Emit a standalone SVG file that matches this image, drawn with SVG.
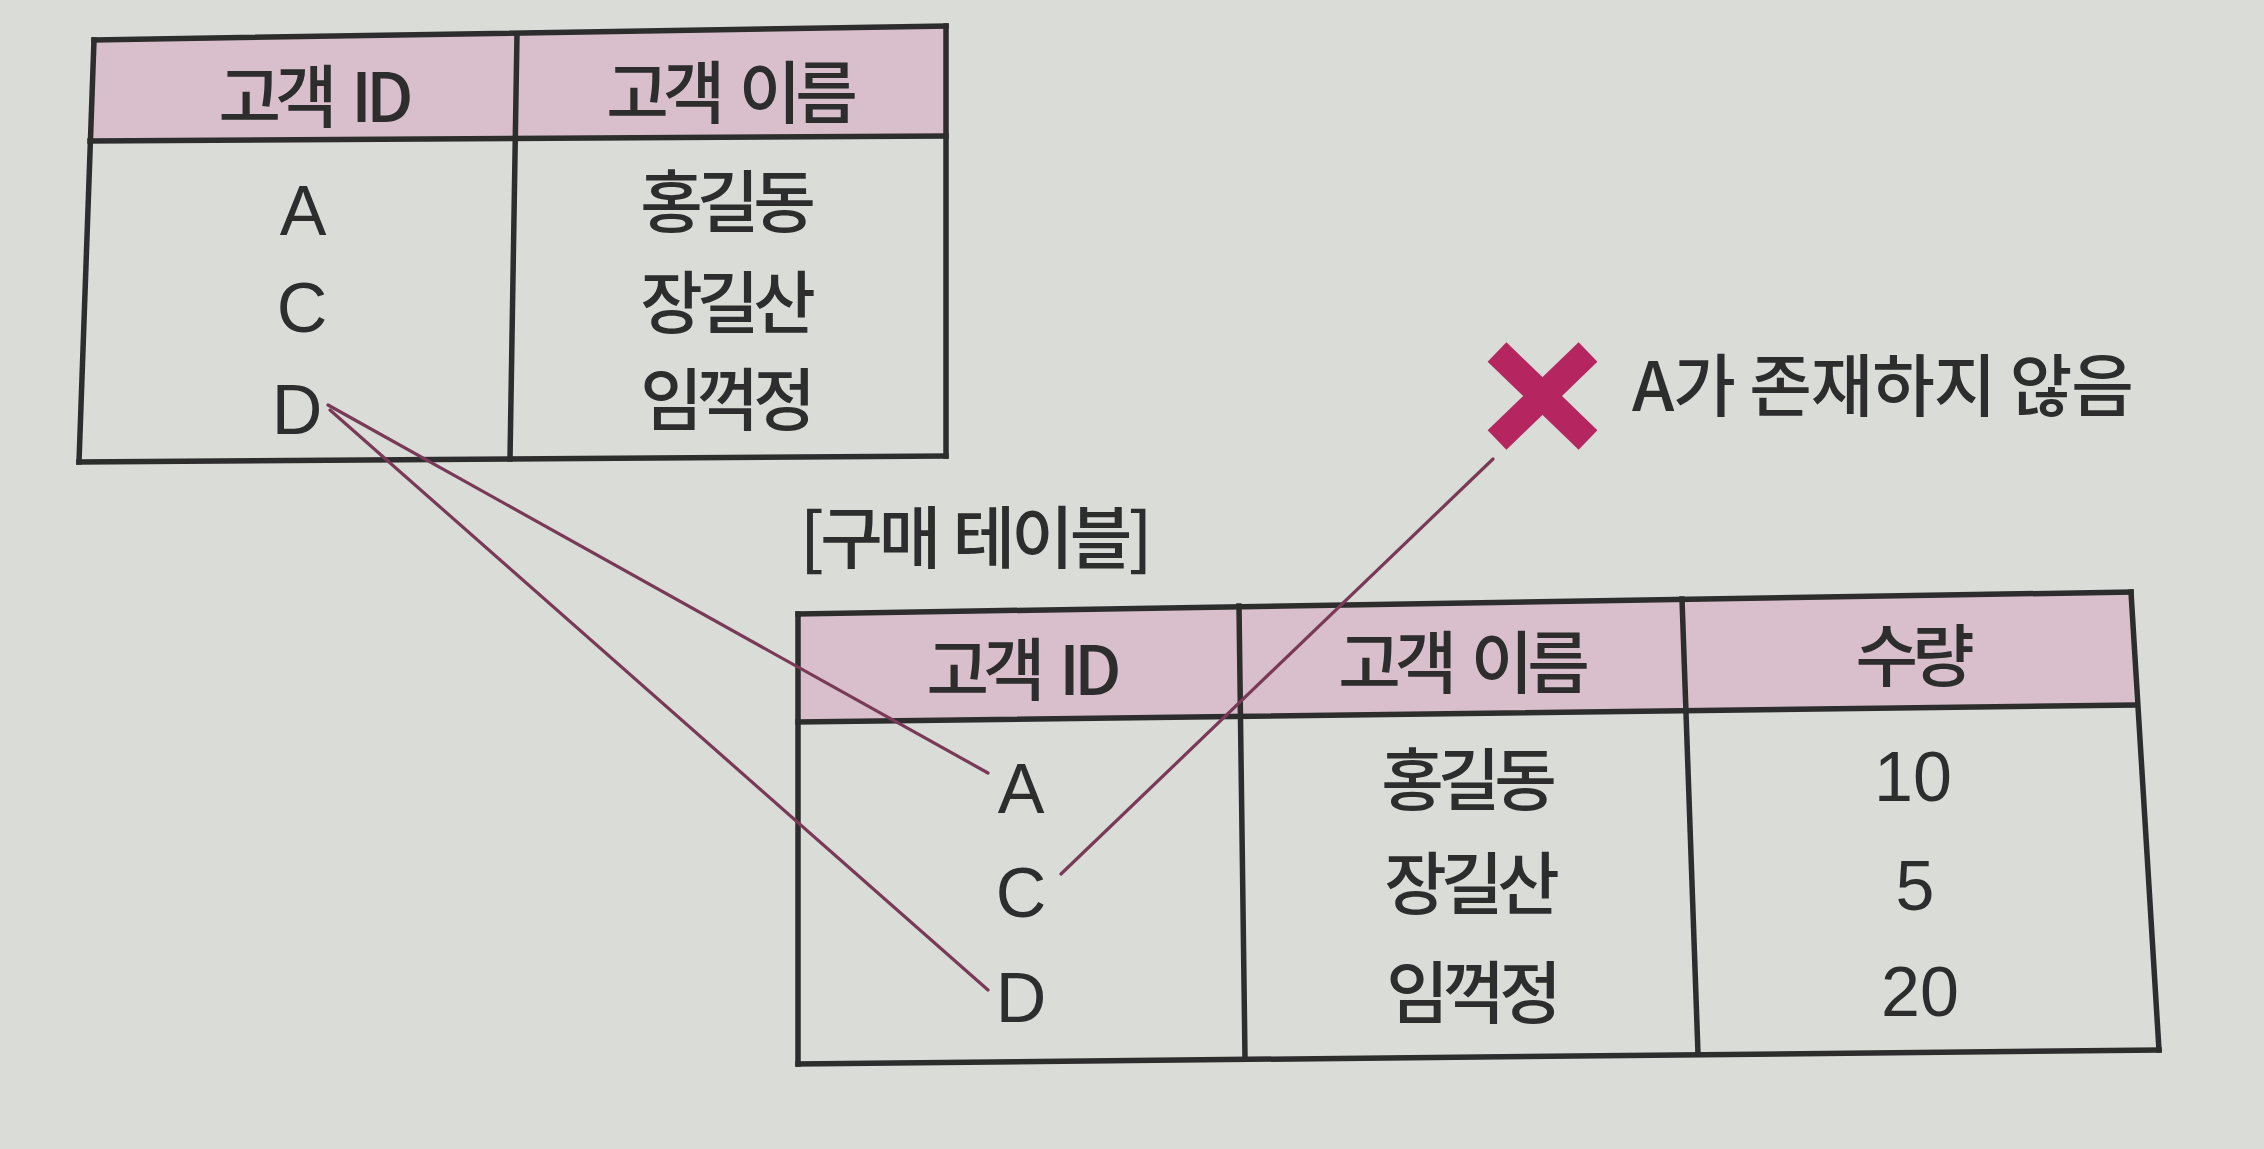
<svg xmlns="http://www.w3.org/2000/svg" width="2264" height="1149" viewBox="0 0 2264 1149">
<style>
.bg{fill:#dadcd8}
.hdr{fill:#d8bfcb}
.ln{stroke:#2d2d2d;stroke-width:5.5;fill:none;stroke-linecap:square}
.t{font-family:"Liberation Sans","Noto Sans CJK KR",sans-serif;fill:#2d2d2d;text-anchor:middle}
.ko{font-family:"Noto Sans CJK KR","Liberation Sans",sans-serif;font-size:68px;letter-spacing:-6px;word-spacing:10px;font-weight:500}
.la{font-size:70px}
.con{stroke:#783a57;stroke-width:3.2;fill:none;stroke-linecap:round}
.x{stroke:#b5255f;stroke-width:27;stroke-linecap:butt}
</style>
<rect class="bg" x="0" y="0" width="2264" height="1149"/>

<g id="customer-table">
  <polygon class="hdr" points="94,40 946,26 946,136 90,141"/>
  <line class="ln" x1="94" y1="40" x2="946" y2="26"/>
  <line class="ln" x1="946" y1="26" x2="946" y2="456"/>
  <line class="ln" x1="946" y1="456" x2="79" y2="462"/>
  <line class="ln" x1="79" y1="462" x2="94" y2="40"/>
  <line class="ln" x1="90" y1="141" x2="946" y2="136"/>
  <line class="ln" x1="517" y1="34" x2="510" y2="459"/>
  <text class="t ko" x="313" y="122">고객 ID</text>
  <text class="t ko" x="729" y="118">고객 이름</text>
  <text class="t la" x="303" y="235">A</text>
  <text class="t la" x="302" y="332">C</text>
  <text class="t la" x="297" y="434">D</text>
  <text class="t ko" x="725" y="227">홍길동</text>
  <text class="t ko" x="725" y="328">장길산</text>
  <text class="t ko" x="725" y="425">임꺽정</text>
</g>

<g id="purchase-title">
  <text class="t ko" x="800" y="563" style="text-anchor:start;letter-spacing:-4px;word-spacing:4px">[구매 테이블]</text>
</g>

<g id="purchase-table">
  <polygon class="hdr" points="798,614 2131,592 2134,705 798,722"/>
  <line class="ln" x1="798" y1="614" x2="2131" y2="592"/>
  <line class="ln" x1="2131" y1="592" x2="2159" y2="1050"/>
  <line class="ln" x1="2159" y1="1050" x2="798" y2="1064"/>
  <line class="ln" x1="798" y1="1064" x2="798" y2="614"/>
  <line class="ln" x1="798" y1="722" x2="2134" y2="705"/>
  <line class="ln" x1="1239" y1="606" x2="1245" y2="1058"/>
  <line class="ln" x1="1682" y1="599" x2="1698" y2="1054"/>
  <text class="t ko" x="1021" y="695">고객 ID</text>
  <text class="t ko" x="1461" y="688">고객 이름</text>
  <text class="t ko" x="1912" y="681">수량</text>
  <text class="t la" x="1021" y="813">A</text>
  <text class="t ko" x="1466" y="805">홍길동</text>
  <text class="t la" x="1913" y="801">10</text>
  <text class="t la" x="1021" y="917">C</text>
  <text class="t ko" x="1469" y="909">장길산</text>
  <text class="t la" x="1915" y="910">5</text>
  <text class="t la" x="1021" y="1022">D</text>
  <text class="t ko" x="1471" y="1018">임꺽정</text>
  <text class="t la" x="1920" y="1016">20</text>
</g>

<g id="not-exist-mark">
  <line class="x" x1="1497" y1="352" x2="1588" y2="440"/>
  <line class="x" x1="1588" y1="352" x2="1497" y2="440"/>
  <text class="t ko" x="1632" y="411" style="text-anchor:start;letter-spacing:-1px;word-spacing:0px">A가 존재하지 않음</text>
</g>

<g id="connectors">
  <line class="con" x1="328" y1="405" x2="988" y2="773"/>
  <line class="con" x1="330" y1="410" x2="988" y2="990"/>
  <line class="con" x1="1061" y1="874" x2="1493" y2="459"/>
</g>
</svg>
